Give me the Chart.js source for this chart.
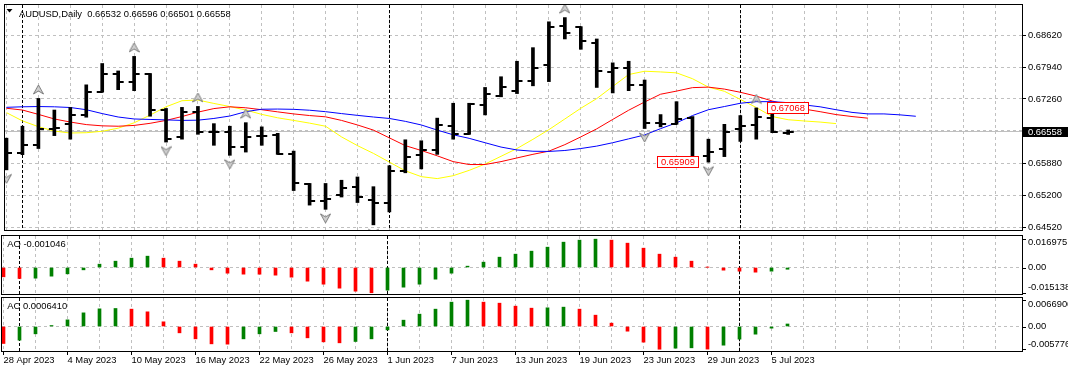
<!DOCTYPE html>
<html><head><meta charset="utf-8">
<script src="https://cdn.jsdelivr.net/npm/chart.js@4.4.1/dist/chart.umd.js"></script>
<style>
html,body{margin:0;padding:0;background:#fff;overflow:hidden}
#wrap{position:relative;width:1068px;height:372px;background:#fff}
canvas{position:absolute;left:0;display:block}
</style></head><body>
<div id="wrap">
<canvas id="main" width="1068" height="235" style="top:0"></canvas>
<canvas id="ao" width="1068" height="60" style="top:235px"></canvas>
<canvas id="ac" width="1068" height="76" style="top:296px"></canvas>
</div>
<script>
// ---------- DATA ----------
const symbol = 'AUDUSD,Daily';
const dateLabels = ['28 Apr 2023','4 May 2023','10 May 2023','16 May 2023','22 May 2023','26 May 2023','1 Jun 2023','7 Jun 2023','13 Jun 2023','19 Jun 2023','23 Jun 2023','29 Jun 2023','5 Jul 2023'];
const labelStep = 4;            // one date label every 4 bars
const monthStarts = [1, 24, 46]; // period separators (1 May, 1 Jun, 3 Jul)
const priceTicks = [0.64520, 0.65200, 0.65880, 0.66580, 0.67260, 0.67940, 0.68620];

const opens  = [0.66248,0.66110,0.66269,0.66622,0.66732,0.66919,0.67410,0.67790,0.67617,0.67790,
                0.67029,0.66456,0.66988,0.66546,0.66559,0.66234,0.66476,0.66490,0.66089,0.65432,
                0.65087,0.65197,0.65377,0.65108,0.65025,0.65709,0.66062,0.66165,0.66684,0.66511,
                0.67126,0.67320,0.67423,0.67652,0.67977,0.68820,0.68792,0.68460,0.67838,0.67928,
                0.67548,0.66753,0.66732,0.66857,0.66041,0.66193,0.66628,0.66711,0.66857,0.66532];
const highs  = [0.66421,0.66677,0.67271,0.67023,0.67078,0.67562,0.68018,0.67859,0.68170,0.67804,
                0.67057,0.67080,0.67100,0.66732,0.66677,0.66753,0.66663,0.66525,0.66145,0.65453,
                0.65453,0.65522,0.65592,0.65384,0.65833,0.66387,0.66366,0.66850,0.67168,0.67168,
                0.67506,0.67735,0.68066,0.68357,0.68910,0.69000,0.68806,0.68543,0.68032,0.68066,
                0.67665,0.66926,0.67202,0.66884,0.66400,0.66718,0.66905,0.67068,0.67060,0.66596];
const lows   = [0.65744,0.66069,0.66200,0.66476,0.66400,0.66870,0.67405,0.67458,0.67437,0.66891,
                0.66338,0.66400,0.66504,0.66269,0.66055,0.66124,0.66269,0.66075,0.65301,0.64990,
                0.64900,0.65163,0.65045,0.64568,0.64845,0.65681,0.65764,0.66075,0.66400,0.66504,
                0.66919,0.67306,0.67375,0.67541,0.67631,0.68543,0.68322,0.67506,0.67389,0.67437,
                0.66628,0.66663,0.66718,0.65930,0.65909,0.66027,0.66352,0.66400,0.66539,0.66501];
const closes = [0.66110,0.66269,0.66608,0.66642,0.66919,0.67410,0.67790,0.67617,0.67790,0.67029,
                0.66400,0.66988,0.66546,0.66559,0.66234,0.66456,0.66470,0.66089,0.65453,0.65087,
                0.65121,0.65350,0.65163,0.65025,0.65709,0.66027,0.66165,0.66711,0.66511,0.67147,
                0.67375,0.67506,0.67645,0.67921,0.68806,0.68668,0.68509,0.67859,0.67928,0.67562,
                0.66753,0.66718,0.66836,0.65972,0.66124,0.66559,0.66684,0.66870,0.66546,0.66558];

// Alligator lines (they run past the last bar)
const jaw   = [0.67081,0.67092,0.67098,0.67092,0.67077,0.67030,0.66947,0.66874,0.66832,0.66822,
               0.66812,0.66801,0.66806,0.66843,0.66895,0.66988,0.67040,0.67044,0.67038,0.67019,
               0.66988,0.66947,0.66909,0.66874,0.66843,0.66781,0.66704,0.66594,0.66494,0.66418,
               0.66324,0.66231,0.66169,0.66142,0.66138,0.66158,0.66200,0.66252,0.66324,0.66407,
               0.66490,0.66625,0.66750,0.66905,0.67030,0.67098,0.67168,0.67202,0.67202,0.67181,
               0.67133,0.67092,0.67030,0.66973,0.66940,0.66940,0.66920,0.66890];
const teeth = [0.67061,0.67023,0.66930,0.66832,0.66766,0.66712,0.66685,0.66677,0.66694,0.66739,
               0.66801,0.66884,0.66978,0.67054,0.67092,0.67071,0.67030,0.66984,0.66940,0.66905,
               0.66878,0.66801,0.66704,0.66594,0.66428,0.66262,0.66158,0.66044,0.65920,0.65858,
               0.65858,0.65920,0.65999,0.66076,0.66144,0.66283,0.66449,0.66621,0.66822,0.67019,
               0.67195,0.67361,0.67428,0.67502,0.67513,0.67471,0.67403,0.67320,0.67216,0.67127,
               0.67044,0.66988,0.66926,0.66884,0.66849];
const lips  = [0.66967,0.66791,0.66667,0.66573,0.66532,0.66538,0.66569,0.66635,0.66750,0.66915,
               0.67092,0.67222,0.67237,0.67164,0.67098,0.67023,0.66930,0.66857,0.66801,0.66743,
               0.66677,0.66449,0.66262,0.66096,0.65910,0.65723,0.65599,0.65557,0.65619,0.65733,
               0.65868,0.66034,0.66200,0.66397,0.66604,0.66832,0.67061,0.67268,0.67527,0.67782,
               0.67853,0.67838,0.67818,0.67693,0.67513,0.67424,0.67251,0.67077,0.66884,0.66816,
               0.66789,0.66766,0.66733];

const fractalUp   = [2, 8, 12, 15, 35, 47];
const fractalDown = [0, 10, 14, 20, 23, 40, 44];
const extremeMarks = [{bar: 47, price: 0.67068, kind: 'high'}, {bar: 44, price: 0.65909, kind: 'low'}];

const aoVals = [-0.00559,-0.00659,-0.00639,-0.00519,-0.00379,-0.00140,0.00200,0.00379,0.00559,0.00679,
                0.00559,0.00379,0.00200,-0.00140,-0.00340,-0.00399,-0.00402,-0.00459,-0.00579,-0.00819,
                -0.00999,-0.01238,-0.01418,-0.015138,-0.01358,-0.01178,-0.00999,-0.00699,-0.00340,0.00080,
                0.00320,0.00619,0.00799,0.00979,0.01218,0.01518,0.01638,0.016975,0.01638,0.01458,
                0.01158,0.00799,0.00619,0.00379,0.00012,-0.00160,-0.00220,-0.00280,-0.00220,-0.001046];
const acVals = [-0.00432,-0.00347,-0.00186,0.00025,0.00169,0.00347,0.00449,0.00458,0.00441,0.00373,
                0.00119,-0.00161,-0.00314,-0.00441,-0.00449,-0.00314,-0.00186,-0.00127,-0.00161,-0.00288,
                -0.00390,-0.00415,-0.00381,-0.00314,-0.00085,0.00161,0.00314,0.00441,0.00619,0.0066906,
                0.00619,0.00593,0.00517,0.00466,0.00475,0.00492,0.00441,0.00288,0.00085,-0.00119,
                -0.00398,-0.0057764,-0.00551,-0.00542,-0.00575,-0.00475,-0.00322,-0.00195,-0.00042,0.0006410];

// ---------- STYLE ----------
const N = closes.length;
const FONT = '"Liberation Sans", Arial, sans-serif';
const FS = 9.4;
const GRID = '#c0c0c0';
const GREEN = '#008000', RED = '#ff0000';
const xMin = -0.09375, xMax = 63.65625;
const fontStr = () => FS + 'px ' + FONT;

function tickImg(side) {
  const c = document.createElement('canvas'); c.width = 15; c.height = 2;
  const g = c.getContext('2d'); g.fillStyle = '#000';
  if (side === 'open') g.fillRect(2, 0, 6, 2); else g.fillRect(7, 0, 6, 2);
  return c;
}
function arrowImg(up) {
  const c = document.createElement('canvas'); c.width = 11; c.height = 31;
  const g = c.getContext('2d');
  g.beginPath();
  if (up) { g.moveTo(5.5, 2); g.lineTo(10.5, 11); g.lineTo(5.5, 8); g.lineTo(0.5, 11); }
  else { g.moveTo(5.5, 29); g.lineTo(10.5, 20); g.lineTo(5.5, 23); g.lineTo(0.5, 20); }
  g.closePath(); g.fillStyle = '#d0d0d0'; g.fill();
  g.strokeStyle = '#7c7c7c'; g.lineWidth = 1; g.stroke();
  return c;
}
function barColors(vals) { return vals.map((v, i) => (i > 0 && v > vals[i - 1]) ? GREEN : RED); }

function xAxis(withLabels) {
  const isLabel = v => v % labelStep === 0 && v / labelStep < dateLabels.length;
  return {
    type: 'linear', min: xMin, max: xMax, offset: false, display: true,
    afterBuildTicks: s => { const t = []; for (let i = 0; i <= 63; i += 2) t.push({value: i}); s.ticks = t; },
    afterFit: s => { s.height = withLabels ? 21 : 0; s.paddingLeft = 0; s.paddingRight = 0; s.paddingTop = 0; s.paddingBottom = 0; },
    grid: { display: true, drawOnChartArea: true, offset: false, color: GRID, lineWidth: 1,
            drawTicks: withLabels, tickLength: 4, tickBorderDash: [], tickWidth: 1,
            tickColor: c => (withLabels && c.tick && isLabel(c.tick.value)) ? '#000' : 'rgba(0,0,0,0)' },
    border: { display: false, dash: [3, 3] },
    ticks: { display: withLabels, autoSkip: false, maxRotation: 0, minRotation: 0, align: 'start',
             labelOffset: 0, padding: 0, color: '#000', font: {family: FONT, size: FS},
             callback: v => isLabel(v) ? dateLabels[v / labelStep] : '' }
  };
}
function subY(min, max) {
  return {
    type: 'linear', position: 'right', min, max,
    afterBuildTicks: s => { s.ticks = [{value: 0}]; },
    afterFit: s => { s.width = 46; s.paddingTop = 0; s.paddingBottom = 0; },
    grid: { color: GRID, lineWidth: 1, drawTicks: false },
    border: { display: false, dash: [3, 3] },
    ticks: { display: false }
  };
}

const panelPlugin = {
  id: 'panel',
  beforeDatasetsDraw(chart, args, o) {
    const {ctx, chartArea: a, scales: {x, y}} = chart;
    ctx.save();
    ctx.strokeStyle = '#000'; ctx.lineWidth = 1; ctx.setLineDash([3, 2]);
    for (const i of monthStarts) {
      const px = Math.round(x.getPixelForValue(i) - 0.5) + 0.5;
      ctx.beginPath(); ctx.moveTo(px, a.top); ctx.lineTo(px, a.bottom); ctx.stroke();
    }
    ctx.setLineDash([]);
    if (o.bidLine) {
      const py = Math.round(y.getPixelForValue(closes[N - 1]) - 0.5) + 0.5;
      ctx.strokeStyle = '#c0c0c0';
      ctx.beginPath(); ctx.moveTo(a.left, py); ctx.lineTo(a.right, py); ctx.stroke();
    }
    ctx.restore();
  },
  afterDraw(chart, args, o) {
    const {ctx, chartArea: a, scales: {x, y}} = chart;
    ctx.save();
    ctx.strokeStyle = '#000'; ctx.lineWidth = 1; ctx.setLineDash([]);
    ctx.strokeRect(a.left - 0.5, a.top - 0.5, a.right - a.left + 1, a.bottom - a.top + 1);
    ctx.font = fontStr(); ctx.textBaseline = 'middle'; ctx.textAlign = 'left';
    if (o.main) {
      ctx.fillStyle = '#000';
      ctx.beginPath(); ctx.moveTo(6.5, 9); ctx.lineTo(12.5, 9); ctx.lineTo(9.5, 12.5); ctx.closePath(); ctx.fill();
      const last = N - 1;
      const title = symbol + '  ' + [opens[last], highs[last], lows[last], closes[last]].map(v => v.toFixed(5)).join(' ');
      ctx.fillText(title, 19, a.top + 9.7);
      for (const m of extremeMarks) {
        const px = x.getPixelForValue(m.bar), py = y.getPixelForValue(m.price);
        const t = m.price.toFixed(5);
        const w = Math.round(ctx.measureText(t).width + 8), h = 12;
        const left = m.kind === 'high' ? Math.round(px + 11) : Math.round(px - 9 - w);
        const top = Math.round(py - h / 2);
        ctx.fillStyle = '#fff'; ctx.fillRect(left, top, w, h);
        ctx.strokeStyle = RED; ctx.strokeRect(left + 0.5, top + 0.5, w - 1, h - 1);
        ctx.fillStyle = RED; ctx.textAlign = 'center'; ctx.fillText(t, left + w / 2, top + h / 2 + 0.5);
        ctx.textAlign = 'left';
      }
      const cp = closes[N - 1], py = y.getPixelForValue(cp);
      ctx.fillStyle = '#000'; ctx.fillRect(a.right + 1, Math.round(py) - 5, chart.width - a.right - 1, 10);
      ctx.fillStyle = '#fff'; ctx.fillText(cp.toFixed(5), 1028, Math.round(py) + 0.5);
    }
    if (o.name) {
      ctx.fillStyle = '#000';
      ctx.fillText(o.name, 7.3, a.top + 8.3);
    }
    if (o.axis) {
      for (const l of o.axis) {
        const p = y.getPixelForValue(l.v);
        ctx.strokeStyle = '#000';
        ctx.beginPath(); ctx.moveTo(a.right, Math.round(p) + 0.5); ctx.lineTo(a.right + 4, Math.round(p) + 0.5); ctx.stroke();
        const ty = Math.min(Math.max(p, a.top + 6.5), a.bottom - 6.5);
        ctx.fillStyle = '#000';
        ctx.fillText(l.t, 1028, ty);
      }
    }
    ctx.restore();
  }
};

const common = {
  responsive: false, animation: false, devicePixelRatio: 1, events: [],
  plugins: { legend: {display: false}, tooltip: {enabled: false} }
};
const pts = arr => arr.map((v, i) => ({x: i, y: v}));

// ---------- MAIN PRICE CHART ----------
new Chart(document.getElementById('main'), {
  type: 'bar',
  data: { datasets: [
    { type: 'line', data: pts(jaw), borderColor: '#0000ff', borderWidth: 1, pointRadius: 0, tension: 0, order: 2 },
    { type: 'line', data: pts(teeth), borderColor: '#ff0000', borderWidth: 1, pointRadius: 0, tension: 0, order: 2 },
    { type: 'line', data: pts(lips), borderColor: '#ffff00', borderWidth: 1, pointRadius: 0, tension: 0, order: 2 },
    { type: 'bar', data: lows.map((l, i) => ({x: i, y: [l, highs[i]]})), backgroundColor: '#000', borderWidth: 0, barThickness: 3, grouped: false, order: 1 },
    { type: 'line', showLine: false, data: pts(opens), pointStyle: tickImg('open'), pointRadius: 3, order: 0 },
    { type: 'line', showLine: false, data: pts(closes), pointStyle: tickImg('close'), pointRadius: 3, order: 0 },
    { type: 'line', showLine: false, data: fractalUp.map(i => ({x: i, y: highs[i]})), pointStyle: arrowImg(true), pointRadius: 3, order: -1 },
    { type: 'line', showLine: false, data: fractalDown.map(i => ({x: i, y: lows[i]})), pointStyle: arrowImg(false), pointRadius: 3, order: -1 }
  ]},
  options: Object.assign({}, common, {
    layout: { padding: {left: 2, top: 1, right: 0, bottom: 2} },
    scales: {
      x: xAxis(false),
      y: { type: 'linear', position: 'right', min: 0.644578, max: 0.692691,
           afterBuildTicks: s => { s.ticks = priceTicks.map(v => ({value: v})); },
           afterFit: s => { s.width = 46; s.paddingTop = 0; s.paddingBottom = 0; },
           grid: { color: GRID, lineWidth: 1, drawTicks: true, tickLength: 4, tickColor: '#000', tickBorderDash: [] },
           border: { display: false, dash: [3, 3] },
           ticks: { padding: 2, color: '#000', font: {family: FONT, size: FS}, callback: v => v.toFixed(5) } }
    },
    plugins: Object.assign({}, common.plugins, { panel: { main: true, bidLine: true } })
  }),
  plugins: [panelPlugin]
});

// ---------- AO ----------
new Chart(document.getElementById('ao'), {
  type: 'bar',
  data: { datasets: [
    { data: pts(aoVals), backgroundColor: barColors(aoVals), borderWidth: 0, barThickness: 3, grouped: false }
  ]},
  options: Object.assign({}, common, {
    layout: { padding: {left: 2, top: 1, right: 0, bottom: 1} },
    scales: { x: xAxis(false), y: subY(-0.015878, 0.018874) },
    plugins: Object.assign({}, common.plugins, { panel: {
      name: 'AO ' + aoVals[N - 1].toFixed(6),
      axis: [ {v: Math.max(...aoVals), t: Math.max(...aoVals).toFixed(6)}, {v: 0, t: '0.00'}, {v: Math.min(...aoVals), t: Math.min(...aoVals).toFixed(6)} ]
    } })
  }),
  plugins: [panelPlugin]
});

// ---------- AC ----------
new Chart(document.getElementById('ac'), {
  type: 'bar',
  data: { datasets: [
    { data: pts(acVals), backgroundColor: barColors(acVals), borderWidth: 0, barThickness: 3, grouped: false }
  ]},
  options: Object.assign({}, common, {
    layout: { padding: {left: 2, top: 2, right: 0, bottom: 0} },
    scales: { x: xAxis(true), y: subY(-0.006229, 0.007246) },
    plugins: Object.assign({}, common.plugins, { panel: {
      name: 'AC ' + acVals[N - 1].toFixed(7),
      axis: [ {v: Math.max(...acVals), t: Math.max(...acVals).toFixed(7)}, {v: 0, t: '0.00'}, {v: Math.min(...acVals), t: Math.min(...acVals).toFixed(7)} ]
    } })
  }),
  plugins: [panelPlugin]
});
</script>
</body></html>
